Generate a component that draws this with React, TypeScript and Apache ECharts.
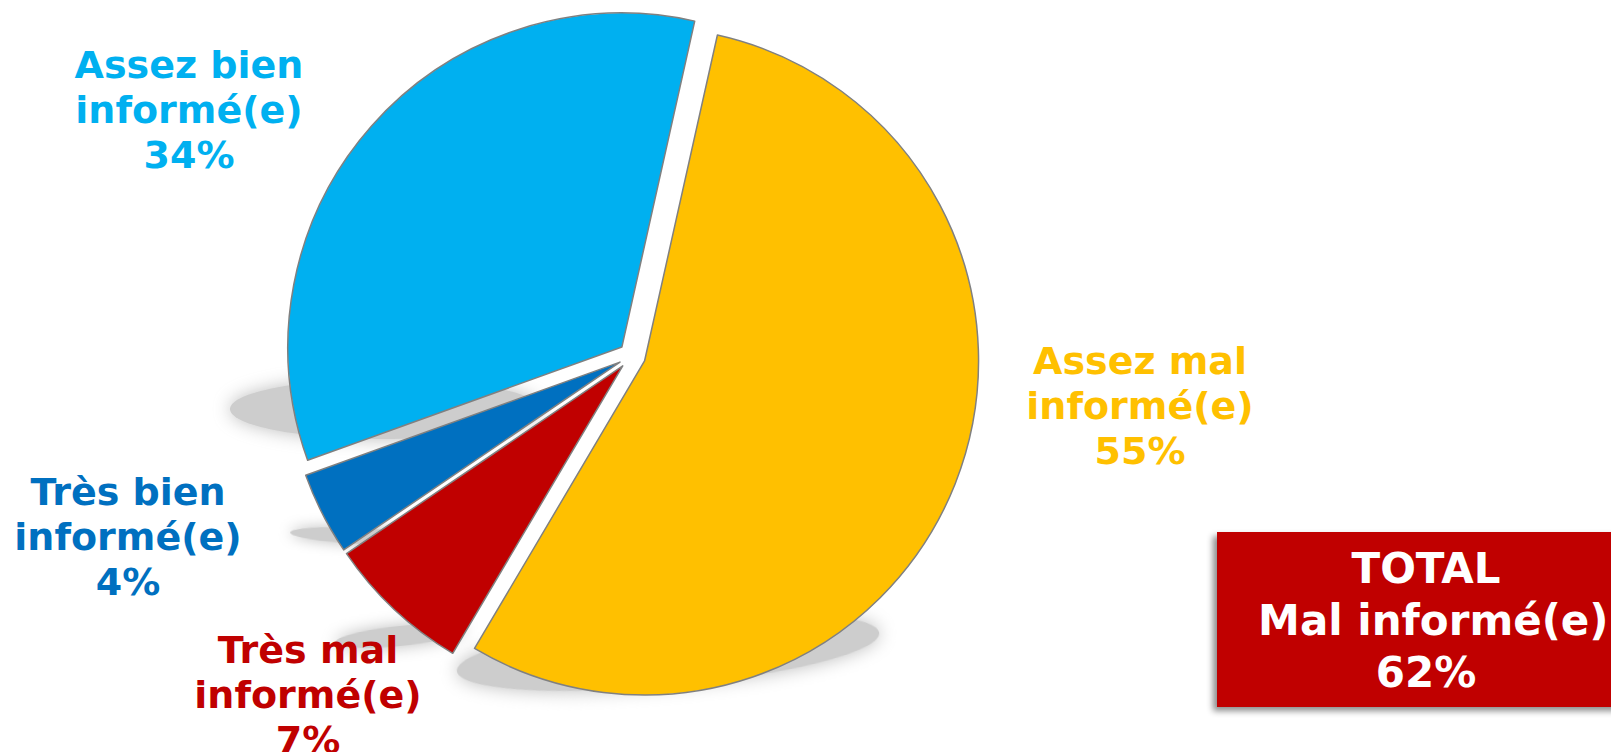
import React, { useEffect, useRef } from "react";
import * as echarts from "echarts";

const categories = [
  "Assez mal\ninformé(e)",
  "Très mal\ninformé(e)",
  "Très bien\ninformé(e)",
  "Assez bien\ninformé(e)",
];
const values = [55, 7, 4, 34];
const colors = ["#FFC000", "#C00000", "#0070C0", "#00B0F0"];
const totalTitle = "TOTAL";
const totalLabel = "Mal informé(e)";
const totalValue = values[0] + values[1];

// label anchor positions (pixels), by slice index
const labelPos = [
  [1140, 406],
  [308, 695],
  [128, 537],
  [189, 110],
];

export default function App() {
  const ref = useRef<HTMLDivElement>(null);
  useEffect(() => {
    document.body.style.margin = "0";
    const chart = echarts.init(ref.current!, null, { renderer: "svg" });
    const font = "'DejaVu Sans', Verdana, sans-serif";
    const shadowStyle = {
      fill: "#cdcdcd",
      shadowBlur: 18,
      shadowColor: "rgba(190,190,190,1)",
    };
    const labels = categories.map((name, i) => ({
      type: "text",
      z: 20,
      x: labelPos[i][0],
      y: labelPos[i][1],
      style: {
        text: name + "\n" + values[i] + "%",
        fill: colors[i],
        font: "bold 38px " + font,
        lineHeight: 45,
        align: "center",
        verticalAlign: "middle",
      },
    }));
    chart.setOption({
      animation: false,
      backgroundColor: "#ffffff",
      graphic: [
        {
          type: "ellipse",
          z: 0,
          x: 385,
          y: 409,
          shape: { cx: 0, cy: 0, rx: 155, ry: 30 },
          style: shadowStyle,
        },
        {
          type: "ellipse",
          z: 0,
          x: 360,
          y: 536,
          rotation: -0.05,
          shape: { cx: 0, cy: 0, rx: 70, ry: 8 },
          style: { ...shadowStyle, shadowBlur: 14 },
        },
        {
          type: "ellipse",
          z: 0,
          x: 400,
          y: 636,
          rotation: 0.1,
          shape: { cx: 0, cy: 0, rx: 65, ry: 10 },
          style: { ...shadowStyle, shadowBlur: 16 },
        },
        {
          type: "ellipse",
          z: 0,
          x: 668,
          y: 652,
          rotation: 0.09,
          shape: { cx: 0, cy: 0, rx: 212, ry: 34 },
          style: shadowStyle,
        },
        {
          type: "rect",
          z: 10,
          shape: { x: 1217, y: 532, width: 420, height: 175 },
          style: {
            fill: "#C00000",
            shadowBlur: 6,
            shadowOffsetX: -4,
            shadowOffsetY: 4,
            shadowColor: "rgba(0,0,0,0.45)",
          },
        },
        {
          type: "text",
          z: 11,
          x: 1426,
          y: 620,
          style: {
            text: totalTitle + "\n " + totalLabel + "\n" + totalValue + "%",
            fill: "#ffffff",
            font: "bold 42px " + font,
            lineHeight: 52,
            align: "center",
            verticalAlign: "middle",
          },
        },
        ...labels,
      ],
      series: [
        {
          type: "pie",
          z: 2,
          center: [632, 356],
          radius: 334,
          startAngle: 77.4,
          clockwise: true,
          selectedMode: "multiple",
          selectedOffset: 13.5,
          silent: true,
          emphasis: { disabled: true },
          itemStyle: { borderColor: "#808080", borderWidth: 1.5 },
          label: { show: false },
          labelLine: { show: false },
          data: categories.map((name, i) => ({
            name,
            value: values[i],
            selected: true,
            itemStyle: { color: colors[i] },
          })),
        },
      ],
    });
    return () => chart.dispose();
  }, []);
  return (
    <div
      ref={ref}
      style={{ position: "absolute", left: 0, top: 0, width: 1611, height: 752 }}
    />
  );
}
